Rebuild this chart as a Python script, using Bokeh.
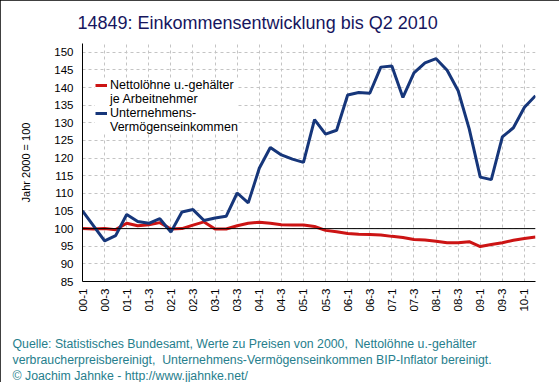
from bokeh.plotting import figure
from bokeh.models import (ColumnDataSource, FixedTicker, Span, Legend, LegendItem, Range1d, Title)
from bokeh.embed import file_html
from bokeh.resources import INLINE
import math

# ---- data ----
quarters = [f"{y:02d}-{q}" for y in range(0, 11) for q in range(1, 5)][:42]
tick_labels = quarters[::2]

nettoloehne = [100.0, 99.9, 100.0, 99.7, 101.5, 100.8, 101.1, 101.7, 99.9, 100.0,
               101.0, 101.9, 99.9, 99.9, 100.8, 101.5, 101.8, 101.5, 101.1, 101.0,
               101.0, 100.6, 99.5, 99.1, 98.6, 98.4, 98.3, 98.2, 97.8, 97.5,
               96.9, 96.8, 96.4, 96.0, 96.0, 96.3, 94.9, 95.5, 96.0, 96.7,
               97.2, 97.6]
unternehmen = [105.0, 100.8, 96.5, 98.0, 104.0, 102.0, 101.5, 102.8, 99.0, 104.7,
               105.4, 102.3, 103.0, 103.5, 110.1, 107.3, 117.1, 123.0, 120.9, 119.7,
               118.8, 130.9, 126.8, 127.9, 137.9, 138.6, 138.4, 145.8, 146.1, 137.2,
               144.2, 147.0, 148.2, 144.9, 139.1, 128.3, 114.6, 113.9, 126.0, 128.6,
               134.4, 137.7]

title_text = "14849: Einkommensentwicklung bis Q2 2010"
ylabel_text = "Jahr 2000 = 100"
legend_lines = ["Nettolöhne u.-gehälter", "je Arbeitnehmer", "Unternehmens-", "Vermögenseinkommen"]
footer_lines = [
    "Quelle: Statistisches Bundesamt, Werte zu Preisen von 2000,\u00a0 Nettolöhne u.-gehälter",
    "verbraucherpreisbereinigt,\u00a0 Unternehmens-Vermögenseinkommen BIP-Inflator bereinigt.",
    "© Joachim Jahnke - http://www.jjahnke.net/",
]

FONT = "Liberation Sans"
RED = "#cc1414"
BLUE = "#16367a"
TEAL = "#267e8c"
NAVY = "#16165e"

x = list(range(len(quarters)))
src = ColumnDataSource(dict(x=x, netto=nettoloehne, unt=unternehmen))

p = figure(width=559, height=382, output_backend="svg", toolbar_location=None,
           x_range=Range1d(0, len(quarters) - 1), y_range=Range1d(85, 152.5),
           min_border_left=82, min_border_right=24, min_border_top=42, min_border_bottom=99)
p.outline_line_color = None
p.background_fill_color = "white"
p.border_fill_color = "white"
p.styles = {"outline": "1px solid black", "outline-offset": "-1px"}

# title
p.title.text = title_text
p.title.align = "left"
p.title.offset = -5
p.title.standoff = 21
p.title.text_line_height = 1.0
p.title.text_font = FONT
p.title.text_font_size = "18px"
p.title.text_font_style = "normal"
p.title.text_color = NAVY

# grids
p.xgrid.ticker = FixedTicker(ticks=list(range(0, len(quarters), 2)))
p.ygrid.ticker = FixedTicker(ticks=list(range(85, 151, 5)))
for g in (p.xgrid, p.ygrid):
    g.grid_line_color = "#c4c4c4"
    g.grid_line_dash = "3 3"
    g.grid_line_width = 1

# axes
p.xaxis.ticker = FixedTicker(ticks=list(range(0, len(quarters), 2)))
p.xaxis.major_label_overrides = {i * 2: lab for i, lab in enumerate(tick_labels)}
p.xaxis.major_label_orientation = math.pi / 2
p.yaxis.ticker = FixedTicker(ticks=list(range(85, 151, 5)))
for ax in (p.xaxis, p.yaxis):
    ax.axis_line_color = "black"
    ax.axis_line_width = 1
    ax.major_tick_line_color = None
    ax.minor_tick_line_color = None
    ax.major_tick_out = 0
    ax.major_tick_in = 0
    ax.major_label_text_font = FONT
    ax.major_label_text_font_size = "11.5px"
    ax.major_label_text_color = "black"
p.yaxis.major_label_standoff = 9
p.xaxis.major_label_standoff = 7
p.yaxis.axis_label = ylabel_text
p.yaxis.axis_label_text_font = FONT
p.yaxis.axis_label_text_font_size = "11px"
p.yaxis.axis_label_text_font_style = "normal"
p.yaxis.axis_label_text_color = "black"
p.yaxis.axis_label_standoff = 19
# blank x-axis label only reserves room above the footer lines
p.xaxis.axis_label = " "
p.xaxis.axis_label_text_font_size = "12px"
p.xaxis.axis_label_text_line_height = 1.0
p.xaxis.axis_label_standoff = 3

p.add_layout(Span(location=100, dimension="width", line_color="black", line_width=1))

r1 = p.line("x", "netto", source=src, line_color=RED, line_width=3)
r2 = p.line("x", "unt", source=src, line_color=BLUE, line_width=3)
# invisible companions so the second line of each legend label has no glyph
r1b = p.line("x", "netto", source=src, line_alpha=0)
r2b = p.line("x", "unt", source=src, line_alpha=0)

legend = Legend(items=[LegendItem(label=legend_lines[0], renderers=[r1]),
                       LegendItem(label=legend_lines[1], renderers=[r1b]),
                       LegendItem(label=legend_lines[2], renderers=[r2]),
                       LegendItem(label=legend_lines[3], renderers=[r2b])],
                location=(13, 147), padding=0, margin=0, spacing=0,
                label_text_font=FONT, label_text_font_size="12.5px",
                label_text_color="black", glyph_width=12, glyph_height=14,
                label_height=14, label_standoff=3,
                background_fill_color="white", background_fill_alpha=1,
                border_line_color=None)
p.add_layout(legend)

for i, line in enumerate(footer_lines):
    t = Title(text=line, align="left", offset=-70, standoff=0, padding=0,
              text_font=FONT, text_font_size="12.3px", text_font_style="normal",
              text_line_height=1.0, text_color=TEAL)
    p.add_layout(t, "below")

open("out.html", "w").write(file_html(p, INLINE))
